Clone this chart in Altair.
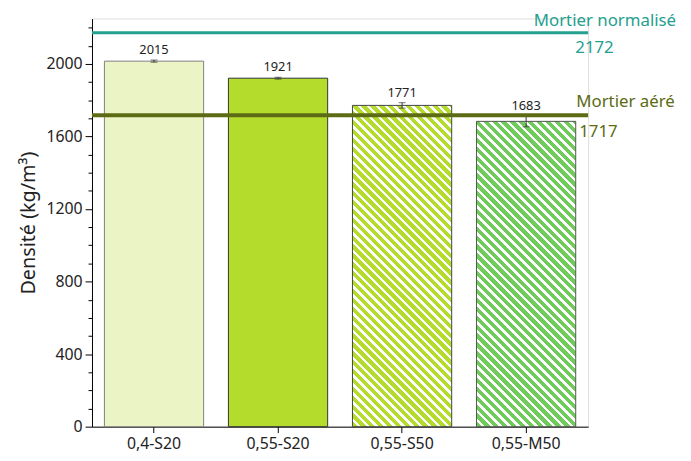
import altair as alt
import pandas as pd

# ---- data ----
categories = ["0,4-S20", "0,55-S20", "0,55-S50", "0,55-M50"]
densities = [2015, 1921, 1771, 1683]
errors = [6, 5, 15, 30]
ref_names = ["Mortier normalisé", "Mortier aéré"]
ref_values = [2172, 1717]

# ---- layout / style ----
W, H = 502, 413
YMAX = 2250
FONT = "Noto Sans"
TITLE = "Densité (kg/m³)"
fills = ["#EAF4C4", "#B4DC2C", "#B4DC2C", "#6FCB5A"]
strokes = ["#808080", "#333333", "#444444", "#555555"]
hatched = [False, False, True, True]
ref_colors = ["#23A08E", "#5C6B14"]

df = pd.DataFrame({"cat": categories, "val": densities, "err": errors})
df["lo"] = df["val"] - df["err"]
df["hi"] = df["val"] + df["err"]

ref_df = pd.DataFrame({"name": ref_names, "val": ref_values, "color": ref_colors})

xscale = alt.Scale(domain=categories, paddingInner=0.2, paddingOuter=0.1)
yscale = alt.Scale(domain=[0, YMAX], nice=False, zero=True)

xaxis = alt.Axis(title=None, labelAngle=0, labelFont=FONT, labelFontSize=16,
                 labelColor="#222222", tickColor="#000000", tickSize=6,
                 domainColor="#000000", labelPadding=3)
yaxis = alt.Axis(title=TITLE, titleFont=FONT, titleFontSize=20, titleFontWeight="normal",
                 titleColor="#222222", titlePadding=8,
                 values=list(range(0, 2201, 100)), format="d",
                 labelExpr="datum.value % 400 === 0 ? datum.label : ''",
                 tickSize={"condition": {"test": "datum.value % 400 === 0", "value": 7}, "value": 4},
                 labelFont=FONT, labelFontSize=16, labelColor="#222222",
                 tickColor="#000000", domainColor="#000000", grid=False, labelPadding=3)


def X(field="cat"):
    return alt.X(f"{field}:N", scale=xscale, axis=xaxis, title=None)


def Y(field="val"):
    return alt.Y(f"{field}:Q", scale=yscale, axis=yaxis, title=TITLE)


step = W / 4
bw = 0.8 * step


def hatch(color, value, period=9.0, frac=0.6):
    h = value * H / YMAX
    r = h / bw
    denom = bw * (1 + r * r)
    stops = []
    k = 0
    while True:
        t0 = k * period / denom
        if t0 > 1:
            break
        t1 = min(1, t0 + frac * period / denom)
        t2 = min(1, t0 + period / denom)
        stops += [alt.GradientStop(color=color, offset=t0),
                  alt.GradientStop(color=color, offset=t1),
                  alt.GradientStop(color="#FFFFFF", offset=t1),
                  alt.GradientStop(color="#FFFFFF", offset=t2)]
        k += 1
    return alt.LinearGradient(gradient="linear", stops=stops, x1=0, y1=1, x2=1, y2=1 - r)


base = alt.Chart(df)
layers = []
for i, cat in enumerate(categories):
    fill = hatch(fills[i], densities[i]) if hatched[i] else fills[i]
    layers.append(
        base.mark_bar(fill=fill, stroke=strokes[i], strokeWidth=1)
        .encode(x=X(), y=Y())
        .transform_filter(alt.datum.cat == cat)
    )

err_rule = base.mark_rule(color="#333333", strokeWidth=1).encode(x=X(), y=Y("lo"), y2="hi:Q")
cap_hi = base.mark_tick(color="#333333", size=7, thickness=1).encode(x=X(), y=Y("hi"))
cap_lo = base.mark_tick(color="#333333", size=7, thickness=1).encode(x=X(), y=Y("lo"))
labels = base.mark_text(font=FONT, fontSize=13, color="#222222", baseline="bottom", dy=-3).encode(
    x=X(), y=Y("hi"), text=alt.Text("val:Q", format="d"))

ref_base = alt.Chart(ref_df)
ref_lines = ref_base.mark_rule().encode(
    y=Y(),
    color=alt.Color("color:N", scale=None),
    strokeWidth=alt.StrokeWidth("name:N", scale=alt.Scale(domain=ref_names, range=[3, 4]), legend=None),
)

t_norm = alt.Chart(ref_df.iloc[[0]]).mark_text(
    font=FONT, fontSize=17, color=ref_colors[0], align="right", baseline="middle", dx=89, dy=-12
).encode(x=alt.value(W), y=Y(), text="name:N")
v_norm = alt.Chart(ref_df.iloc[[0]]).mark_text(
    font=FONT, fontSize=17, color=ref_colors[0], align="left", baseline="middle", dx=-13, dy=16
).encode(x=alt.value(W), y=Y(), text=alt.Text("val:Q", format="d"))
t_aer = alt.Chart(ref_df.iloc[[1]]).mark_text(
    font=FONT, fontSize=17, color=ref_colors[1], align="left", baseline="middle", dx=-12, dy=-13
).encode(x=alt.value(W), y=Y(), text="name:N")
v_aer = alt.Chart(ref_df.iloc[[1]]).mark_text(
    font=FONT, fontSize=17, color=ref_colors[1], align="left", baseline="middle", dx=-9, dy=17
).encode(x=alt.value(W), y=Y(), text=alt.Text("val:Q", format="d"))

chart = alt.layer(
    *layers, err_rule, cap_hi, cap_lo, labels, ref_lines, t_norm, v_norm, t_aer, v_aer
).properties(
    width=W, height=H,
    autosize=alt.AutoSizeParams(type="none"),
    padding={"left": 85, "top": 8, "right": 96, "bottom": 24},
).configure_view(stroke=None).configure(background="white")

chart.save("out.html", embed_options={"renderer": "svg", "actions": False})
